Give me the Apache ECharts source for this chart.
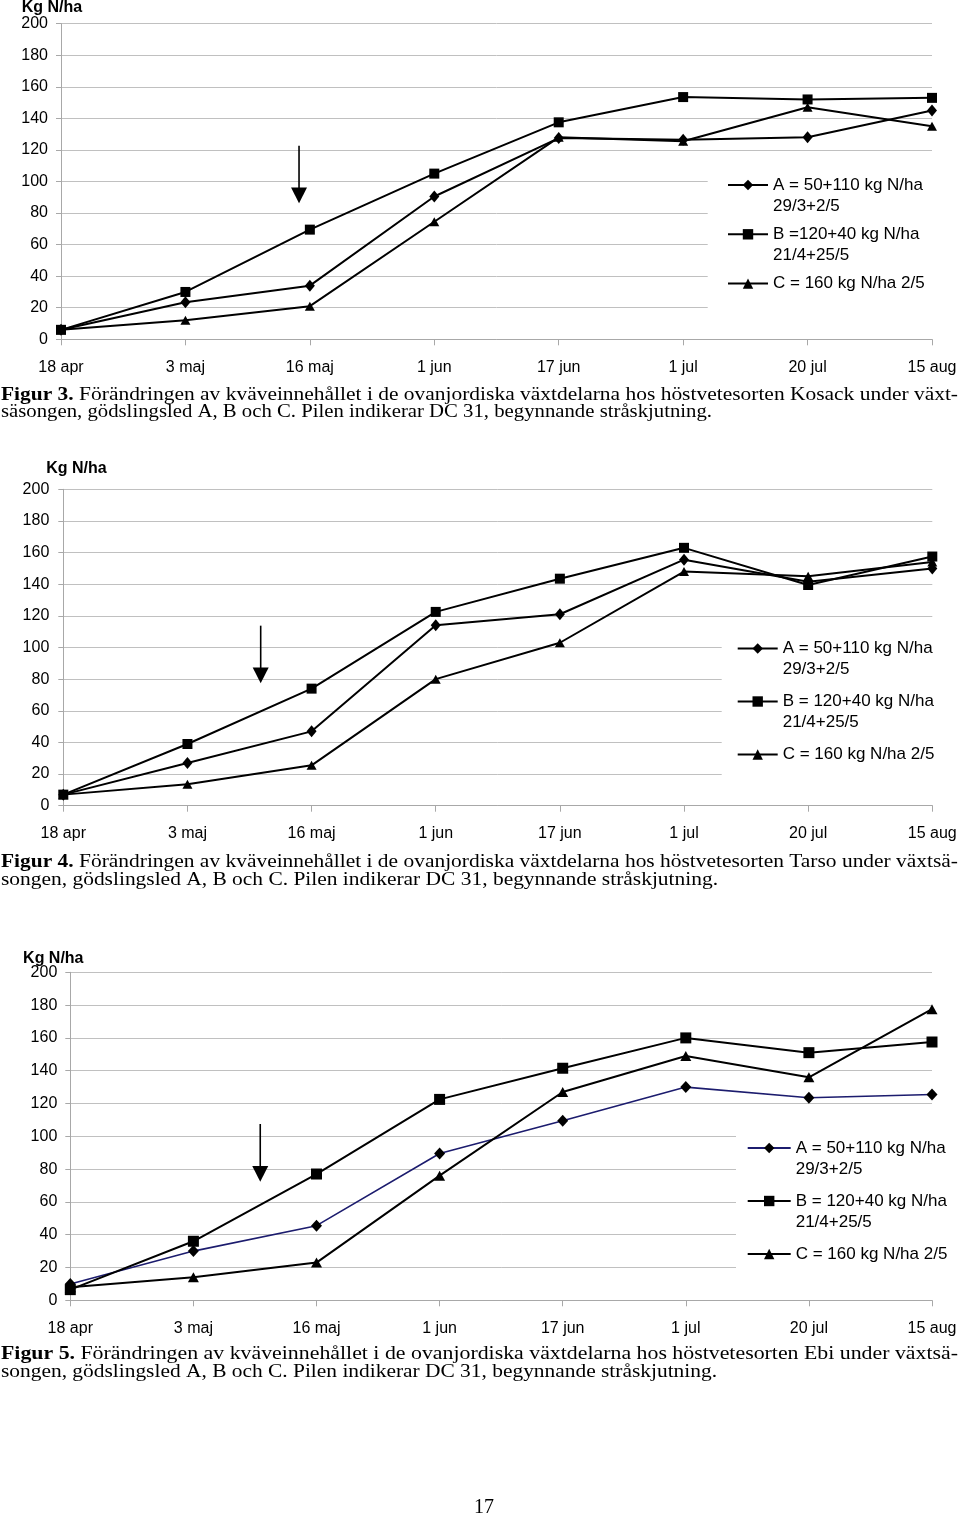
<!DOCTYPE html>
<html><head><meta charset="utf-8">
<script src="https://cdn.jsdelivr.net/npm/echarts@6/dist/echarts.min.js"></script>
<style>html,body{margin:0;padding:0;background:#fff}#c{width:960px;height:1518px}</style>
</head><body><div id="c"></div>
<script>
// ---- data ----
const categories = ['18 apr', '3 maj', '16 maj', '1 jun', '17 jun', '1 jul', '20 jul', '15 aug'];
const yMin = 0, yMax = 200, yStep = 20;

// Figur 3 (Kosack)
const fig3A = [6, 23.5, 34, 90.5, 127.5, 126.5, 128, 145];
const fig3B = [6, 30, 69.5, 105, 137.5, 153.5, 152, 153];
const fig3C = [6, 12, 21, 74.5, 128, 125.5, 147, 135];
// Figur 4 (Tarso)
const fig4A = [7, 27, 47, 114, 121, 155.5, 141.5, 150];
const fig4B = [7, 39, 74, 122.5, 143.5, 163, 139.5, 157.5];
const fig4C = [7, 13.5, 25.5, 80, 103, 148, 145, 154];
// Figur 5 (Ebi)
const fig5A = [10, 30, 45.5, 89.5, 109.5, 130, 123.5, 125.5];
const fig5B = [6.5, 36, 77, 122.5, 141.5, 160, 151, 157.5];
const fig5C = [8, 14, 23, 76, 127, 149, 136, 177.5];

const legend3 = ['A = 50+110 kg N/ha\n29/3+2/5', 'B =120+40 kg N/ha\n21/4+25/5', 'C = 160 kg N/ha 2/5'];
const legend45 = ['A = 50+110 kg N/ha\n29/3+2/5', 'B = 120+40 kg N/ha\n21/4+25/5', 'C = 160 kg N/ha 2/5'];

const captions = [
  ['Figur 3.', ' Förändringen av kväveinnehållet i de ovanjordiska växtdelarna hos höstvetesorten Kosack under växt-',
   'säsongen, gödslingsled A, B och C. Pilen indikerar DC 31, begynnande stråskjutning.'],
  ['Figur 4.', ' Förändringen av kväveinnehållet i de ovanjordiska växtdelarna hos höstvetesorten Tarso under växtsä-',
   'songen, gödslingsled A, B och C. Pilen indikerar DC 31, begynnande stråskjutning.'],
  ['Figur 5.', ' Förändringen av kväveinnehållet i de ovanjordiska växtdelarna hos höstvetesorten Ebi under växtsä-',
   'songen, gödslingsled A, B och C. Pilen indikerar DC 31, begynnande stråskjutning.']
];
const yTitle = 'Kg N/ha';
const pageNumber = '17';

// ---- layout / style ----
const SANS = '"Liberation Sans", Arial, sans-serif';
const SERIF = '"Liberation Serif", "Times New Roman", serif';
const GRID_COL = '#c0c0c0';
const AXIS_COL = '#a8a8a8';

const grids = [
  {left: 61, top: 23.7, width: 871, height: 315.6},
  {left: 63.3, top: 489.3, width: 869, height: 316.4},
  {left: 70.3, top: 972.3, width: 861.7, height: 328}
];
const yLabelMargin = [13, 14, 13];
const legendPos = [
  {left: 707.7, top: 153.5, padL: 19.3, gap: -13.7, itemWidth: 40},
  {left: 721.7, top: 617, padL: 15, gap: -10, itemWidth: 40},
  {left: 736, top: 1116.5, padL: 10.7, gap: -10, itemWidth: 43}
];
const titlePos = [[52, 7.5], [76.5, 468.5], [53.3, 959]];
// arrows: [category position (fractional index), top value, tip value]
const arrows = [[1.913, 122.7, 86.2], [1.590, 113.8, 77.4], [1.543, 107.5, 72.3]];
const captionY = [[395, 412.5], [862.5, 880], [1354.5, 1372]];
const line2End = [712, 718, 717];

const figData = [[fig3A, fig3B, fig3C], [fig4A, fig4B, fig4C], [fig5A, fig5B, fig5C]];
const figLegend = [legend3, legend45, legend45];
const symbols = ['diamond', 'rect', 'triangle'];
const symSizes = [[10, 12], 10, [10, 9]];
const letters = ['A', 'B', 'C'];

const nameMap = {};
const series = [], xAxes = [], yAxes = [], legends = [];
figData.forEach((sets, g) => {
  xAxes.push({
    type: 'category', gridIndex: g, data: categories, boundaryGap: false,
    axisLine: {lineStyle: {color: AXIS_COL, width: 1}},
    axisTick: {show: true, length: 6, interval: 0, lineStyle: {color: AXIS_COL}},
    axisLabel: {interval: 0, fontSize: 16, color: '#000', margin: 20, fontFamily: SANS},
    splitLine: {show: false}
  });
  yAxes.push({
    type: 'value', gridIndex: g, min: yMin, max: yMax, interval: yStep,
    axisLine: {show: true, lineStyle: {color: AXIS_COL, width: 1}},
    axisTick: {show: true, length: 5, lineStyle: {color: AXIS_COL}},
    axisLabel: {fontSize: 16, color: '#000', margin: yLabelMargin[g], fontFamily: SANS},
    splitLine: {show: true, lineStyle: {color: GRID_COL, width: 1}}
  });
  const legendData = [];
  sets.forEach((vals, i) => {
    const name = letters[i] + (g + 3);
    const label = figLegend[g][i];
    // centre the first text line on the legend symbol: pad to three lines with the first line in the middle
    nameMap[name] = '\n' + label + (label.indexOf('\n') < 0 ? '\n ' : '');
    const lineColor = (g === 2 && i === 0) ? '#1c1c6e' : '#000';
    series.push({
      type: 'line', name: name, xAxisIndex: g, yAxisIndex: g, data: vals,
      symbol: symbols[i], symbolSize: g === 2 ? (i === 2 ? [11, 10] : (i === 0 ? [11, 12] : 11)) : symSizes[i],
      showAllSymbol: true,
      lineStyle: {color: lineColor, width: (g === 2 && i === 0) ? 1.6 : 2},
      itemStyle: {color: '#000'},
      emphasis: {disabled: true},
      animation: false, z: 3
    });
    legendData.push({name: name});
  });
  const lp = legendPos[g];
  legends.push({
    orient: 'vertical', left: lp.left, top: lp.top,
    padding: [0, 10, 0, lp.padL], itemGap: lp.gap,
    itemWidth: lp.itemWidth, itemHeight: 13,
    backgroundColor: '#fff', selectedMode: false,
    data: legendData,
    formatter: n => nameMap[n],
    textStyle: {fontSize: 17, lineHeight: 21, color: '#000', fontFamily: SANS},
    z: 5
  });
});

const chart = echarts.init(document.getElementById('c'), null, {renderer: 'canvas'});
chart.setOption({
  animation: false,
  backgroundColor: '#fff',
  grid: grids.map(g => Object.assign({containLabel: false}, g)),
  xAxis: xAxes, yAxis: yAxes, legend: legends, series: series
});

// ---- graphics: titles, arrows, captions ----
const ctx = document.createElement('canvas').getContext('2d');
function tw(text, weight, size, fam) { ctx.font = weight + ' ' + size + 'px ' + fam; return ctx.measureText(text).width; }
const CAP_SIZE = 19;
const els = [];
titlePos.forEach((p) => {
  els.push({type: 'text', x: p[0], y: p[1], style: {text: yTitle, align: 'center', verticalAlign: 'middle',
    fontSize: 16, fontWeight: 'bold', fontFamily: SANS, fill: '#000'}, z: 10});
});
arrows.forEach((a, g) => {
  const i0 = Math.floor(a[0]), f = a[0] - i0;
  const x0 = chart.convertToPixel({xAxisIndex: g}, categories[i0]);
  const x1 = chart.convertToPixel({xAxisIndex: g}, categories[i0 + 1]);
  const x = x0 + f * (x1 - x0);
  const yTop = chart.convertToPixel({yAxisIndex: g}, a[1]);
  const yTip = chart.convertToPixel({yAxisIndex: g}, a[2]);
  const headH = 15.7, headW = 16;
  els.push({type: 'line', shape: {x1: x, y1: yTop, x2: x, y2: yTip - headH + 1}, style: {stroke: '#000', lineWidth: 1.6}, z: 10});
  els.push({type: 'polygon', shape: {points: [[x - headW / 2, yTip - headH], [x + headW / 2, yTip - headH], [x, yTip]]}, style: {fill: '#000'}, z: 10});
});
captions.forEach((c, k) => {
  const w1 = tw(c[0], 'bold', CAP_SIZE, SERIF) + tw(c[1], 'normal', CAP_SIZE, SERIF);
  const w2 = tw(c[2], 'normal', CAP_SIZE, SERIF);
  const s1 = (958 - 1) / w1, s2 = (line2End[k] - 1) / w2;
  els.push({type: 'text', x: 1, y: captionY[k][0], scaleX: s1, originX: 0, style: {
    text: '{b|' + c[0] + '}' + c[1], verticalAlign: 'middle', fontSize: CAP_SIZE, fontFamily: SERIF, fill: '#000',
    rich: {b: {fontWeight: 'bold', fontSize: CAP_SIZE, fontFamily: SERIF, fill: '#000'}}}, z: 10});
  els.push({type: 'text', x: 1, y: captionY[k][1], scaleX: s2, originX: 0, style: {
    text: c[2], verticalAlign: 'middle', fontSize: CAP_SIZE, fontFamily: SERIF, fill: '#000'}, z: 10});
});
els.push({type: 'text', x: 484, y: 1508, style: {text: pageNumber, align: 'center', verticalAlign: 'middle',
  fontSize: 20, fontFamily: SERIF, fill: '#000'}, z: 10});
chart.setOption({graphic: {elements: els}});
</script>
</body></html>
